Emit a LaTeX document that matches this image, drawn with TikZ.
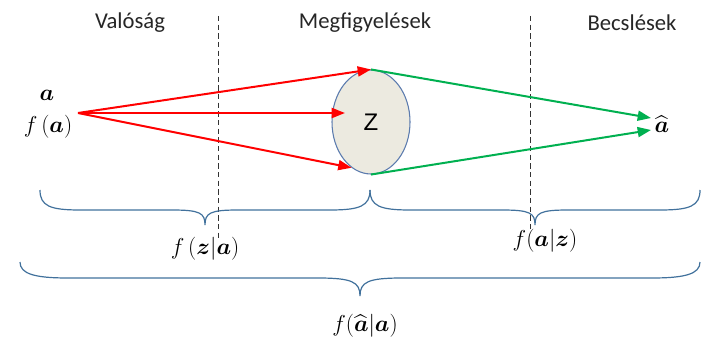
\documentclass[tikz,border=0pt]{standalone}
\usepackage{amsmath,bm}
\usepackage{fontspec}
\setmainfont{Carlito}
\newfontfamily\zfont{Liberation Sans}
\usetikzlibrary{arrows.meta, shapes.geometric}

\definecolor{braceblue}{HTML}{41719C}
\definecolor{ellfill}{HTML}{ECEAE0}
\definecolor{ellline}{HTML}{5B7BAE}
\definecolor{arrred}{HTML}{FF0000}
\definecolor{arrgreen}{HTML}{00B050}

\begin{document}
\begin{tikzpicture}[
    x=0.75pt, y=-0.75pt,
    % Styles
    header/.style={font=\fontsize{17}{19}\selectfont, text=black!85},
    mathlbl/.style={font=\fontsize{19}{21}\selectfont, inner sep=1pt},
    obs_ell/.style={ellipse, draw=ellline, fill=ellfill, line width=0.8pt, inner sep=0pt, minimum width=58.5pt, minimum height=78pt, font=\zfont\fontsize{18}{20}\selectfont},
    sep_line/.style={draw=black!80, line width=0.7pt, dash pattern=on 4pt off 2.5pt},
    red_arrow/.style={-{Triangle[length=10pt, width=7.5pt]}, line width=1.5pt, arrred},
    green_arrow/.style={-{Triangle[length=10pt, width=7.5pt]}, line width=1.5pt, arrgreen},
    brace_line/.style={draw=braceblue, line width=0.9pt}
]
    \useasboundingbox (0,0) rectangle (705,346);

    % 1. HEADERS AND SEPARATORS
    \node[header] (real_hdr) at (130,23) {Valóság};
    \node[header] (obs_hdr) at (365,23) {Megfigyelések};
    \node[header] (est_hdr) at (632,23) {Becslések};

    \draw[sep_line] (218,16) -- (218,238);
    \draw[sep_line] (530,16) -- (530,230);

    % 2. REALITY, OBSERVATION, ESTIMATE
    \node[mathlbl] (real_a) at (47,95) {$\bm{a}$};
    \node[mathlbl] (real_fa) at (48,127) {$f\,(\bm{a})$};
    \coordinate (src) at (78,113);

    \node[obs_ell] (obs) at (371,122) {Z};
    \coordinate (obs_mid) at (345,113);

    \node[mathlbl, anchor=west] (est) at (653,124) {$\widehat{\bm{a}}$};
    \coordinate (est_top) at (651,118);
    \coordinate (est_bot) at (651,130);

    % 3. ARROWS
    \draw[red_arrow] (src) -- (obs.north);
    \draw[red_arrow] (src) -- (obs_mid);
    \draw[red_arrow] (src) -- (obs.-113);

    \draw[green_arrow] (obs.north) -- (est_top);
    \draw[green_arrow] (obs.south) -- (est_bot);

    % 4. BRACES
    \draw[brace_line] (40,190) .. controls (40,206) and (50,210) .. (80,210) -- (172,210)
        .. controls (200,210) and (205,213) .. (205,225)
        .. controls (205,213) and (210,210) .. (238,210) -- (330,210)
        .. controls (360,210) and (370,206) .. (370,190);
    \draw[brace_line] (370,190) .. controls (370,206) and (380,210) .. (410,210) -- (502,210)
        .. controls (530,210) and (535,213) .. (535,225)
        .. controls (535,213) and (540,210) .. (568,210) -- (660,210)
        .. controls (690,210) and (700,206) .. (700,190);
    \draw[brace_line] (20,262) .. controls (20,274) and (35,278) .. (68,278) -- (318,278)
        .. controls (352,278) and (360,282) .. (360,296)
        .. controls (360,282) and (368,278) .. (402,278) -- (652,278)
        .. controls (685,278) and (700,274) .. (700,262);

    % 5. BRACE LABELS
    \node[mathlbl] (lik) at (205,249) {$f\,(\bm{z}|\bm{a})$};
    \node[mathlbl] (post) at (545,241) {$f(\bm{a}|\bm{z})$};
    \node[mathlbl] (total) at (365,326) {$f(\widehat{\bm{a}}|\bm{a})$};

\end{tikzpicture}
\end{document}
